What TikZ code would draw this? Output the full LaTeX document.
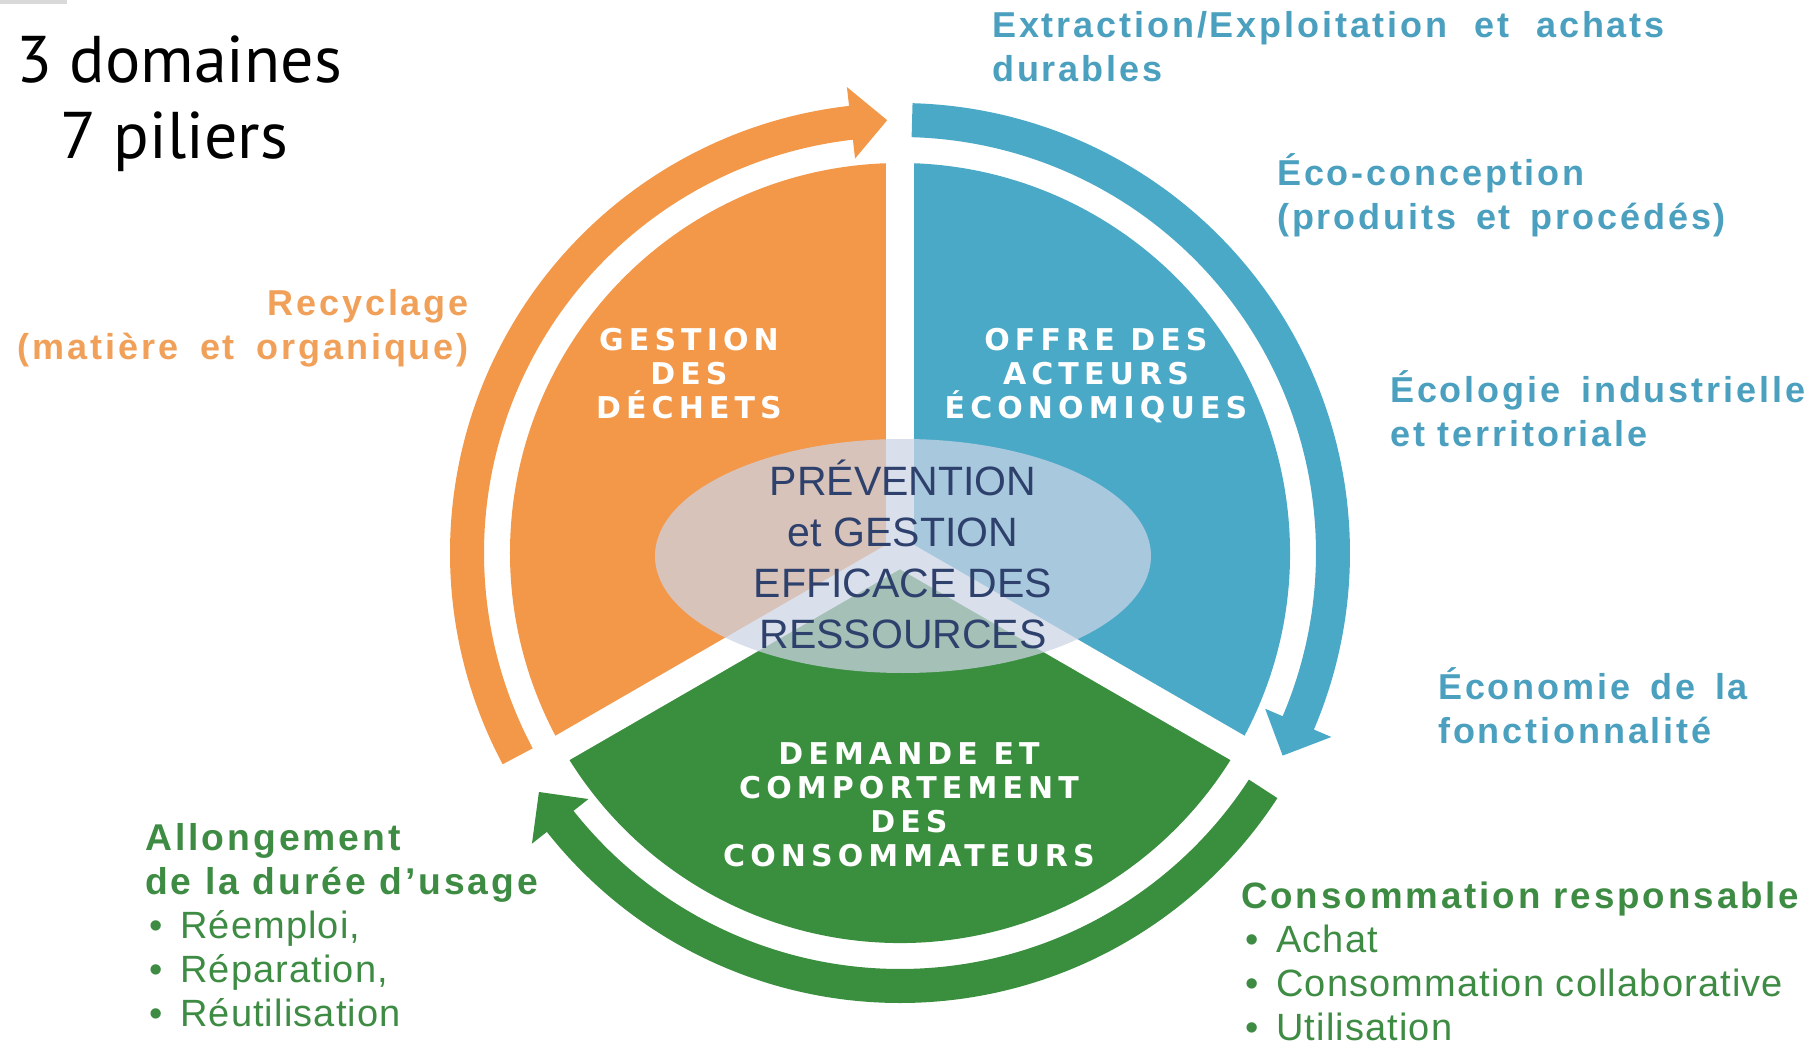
\documentclass[tikz,border=0pt]{standalone}
\usepackage{fontspec}
\setmainfont{Liberation Sans}
\newfontfamily\titlefont{PT Sans}
\newfontfamily\lblfont[LetterSpace=8]{Liberation Sans}
\newfontfamily\itemfont[LetterSpace=3]{Liberation Sans}
\newfontfamily\pilierfont[LetterSpace=17]{DejaVu Sans}
\usetikzlibrary{positioning}

\definecolor{wedgeorange}{RGB}{243,151,72}
\definecolor{wedgeblue}{RGB}{75,169,200}
\definecolor{wedgegreen}{RGB}{58,143,62}
\definecolor{lblorange}{RGB}{240,160,88}
\definecolor{lblblue}{RGB}{74,160,190}
\definecolor{lblgreen}{RGB}{62,140,68}
\definecolor{centertext}{RGB}{46,64,108}
\definecolor{ellipsefill}{RGB}{205,212,230}

\begin{document}
\begin{tikzpicture}[
    x=1pt, y=1pt,
    lbl/.style={font=\lblfont\bfseries\fontsize{36}{44}\selectfont, align=left, inner sep=0pt, anchor=base west},
    itemlist/.style={font=\itemfont\fontsize{38}{44}\selectfont, align=left, inner sep=0pt, anchor=base west},
    pilier/.style={font=\pilierfont\bfseries\fontsize{30}{34}\selectfont, text=white, align=center, inner sep=0pt, anchor=base},
    divider/.style={white, line width=28pt}
]
\useasboundingbox (-900,-494) rectangle (916,553);

% small mark top left
\fill[gray!30] (-900,553) rectangle (-833,549);

% Three sectors
\fill[wedgeorange] (0,0) -- (90:390pt) arc[start angle=90, end angle=210, radius=390pt] -- cycle;
\fill[wedgeblue] (0,0) -- (-30:390pt) arc[start angle=-30, end angle=90, radius=390pt] -- cycle;
\fill[wedgegreen] (0,0) -- (210:390pt) arc[start angle=210, end angle=330, radius=390pt] -- cycle;
\draw[divider] (0,0) -- (90:400pt);
\draw[divider] (0,0) -- (210:400pt);
\draw[divider] (0,0) -- (330:400pt);

% Outer ring arrows (clockwise)
\fill[wedgeorange] (208:450pt) arc[start angle=208, end angle=96.5, radius=450pt]
    -- (96.5:469pt) -- (91.7:433pt) -- (96.5:397pt) -- (96.5:416pt)
    arc[start angle=96.5, end angle=208, radius=416pt] -- cycle;
\fill[wedgeblue] (88.4:450pt) arc[start angle=88.4, end angle=-23.1, radius=450pt]
    -- (-23.1:469pt) -- (-27.9:433pt) -- (-23.1:397pt) -- (-23.1:416pt)
    arc[start angle=-23.1, end angle=88.4, radius=416pt] -- cycle;
\fill[wedgegreen] (-33:450pt) arc[start angle=-33, end angle=-141.7, radius=450pt]
    -- (-141.7:469pt) -- (-146.5:433pt) -- (-141.7:397pt) -- (-141.7:416pt)
    arc[start angle=-141.7, end angle=-33, radius=416pt] -- cycle;

% Centre (nodes are anchored on the baseline of their last line)
\fill[ellipsefill, fill opacity=0.72] (3,-3) ellipse[x radius=248, y radius=117];
\node[font=\fontsize{41}{51}\selectfont, text=centertext, align=center, inner sep=0pt, anchor=base]
    (prevention) at (3,-95) {PRÉVENTION\\et GESTION\\EFFICACE DES\\RESSOURCES};

% Domains
\node[pilier] (dechets) at (-211,134) {GESTION\\DES\\DÉCHETS};
\node[pilier] (offre) at (196,134) {OFFRE DES\\ACTEURS\\ÉCONOMIQUES};
\node[pilier] (demande) at (9,-313) {DEMANDE ET\\COMPORTEMENT\\DES\\CONSOMMATEURS};

% Title
\node[font=\titlefont\fontsize{66}{76}\selectfont, align=left, inner sep=0pt, anchor=base west]
    (titre) at (-884,394) {3 domaines\\\hspace*{44pt}7 piliers};

% Pillars
\node[lbl, text=lblblue] (extraction) at (92,471) {Extraction/Exploitation\hspace{14pt} et\hspace{14pt} achats\\durables};
\node[lbl, text=lblblue] (ecoconception) at (377,323) {Éco-conception\\(produits\hspace{7pt} et\hspace{7pt} procédés)};
\node[lbl, text=lblblue] (ecologie) at (490,106) {Écologie\hspace{8pt} industrielle\\et territoriale};
\node[lbl, text=lblblue] (fonctionnalite) at (538,-190) {Économie\hspace{7pt} de\hspace{7pt} la\\fonctionnalité};
\node[lbl, text=lblorange, align=right, anchor=base east] (recyclage) at (-431,193) {Recyclage\\(matière\hspace{9pt} et\hspace{9pt} organique)};
\node[itemlist, text=lblgreen] (consommation) at (341,-487)
    {{\lblfont\bfseries\fontsize{36.7}{44}\selectfont Consommation responsable}\\
     \hspace*{4pt}\makebox[31pt][l]{•}Achat\\
     \hspace*{4pt}\makebox[31pt][l]{•}Consommation collaborative\\
     \hspace*{4pt}\makebox[31pt][l]{•}Utilisation};
\node[itemlist, text=lblgreen] (allongement) at (-755,-473)
    {{\lblfont\bfseries\fontsize{37.3}{44}\selectfont Allongement}\\
     {\lblfont\bfseries\fontsize{37.3}{44}\selectfont de la durée d’usage}\\
     \hspace*{4pt}\makebox[31pt][l]{•}Réemploi,\\
     \hspace*{4pt}\makebox[31pt][l]{•}Réparation,\\
     \hspace*{4pt}\makebox[31pt][l]{•}Réutilisation};

\end{tikzpicture}
\end{document}
